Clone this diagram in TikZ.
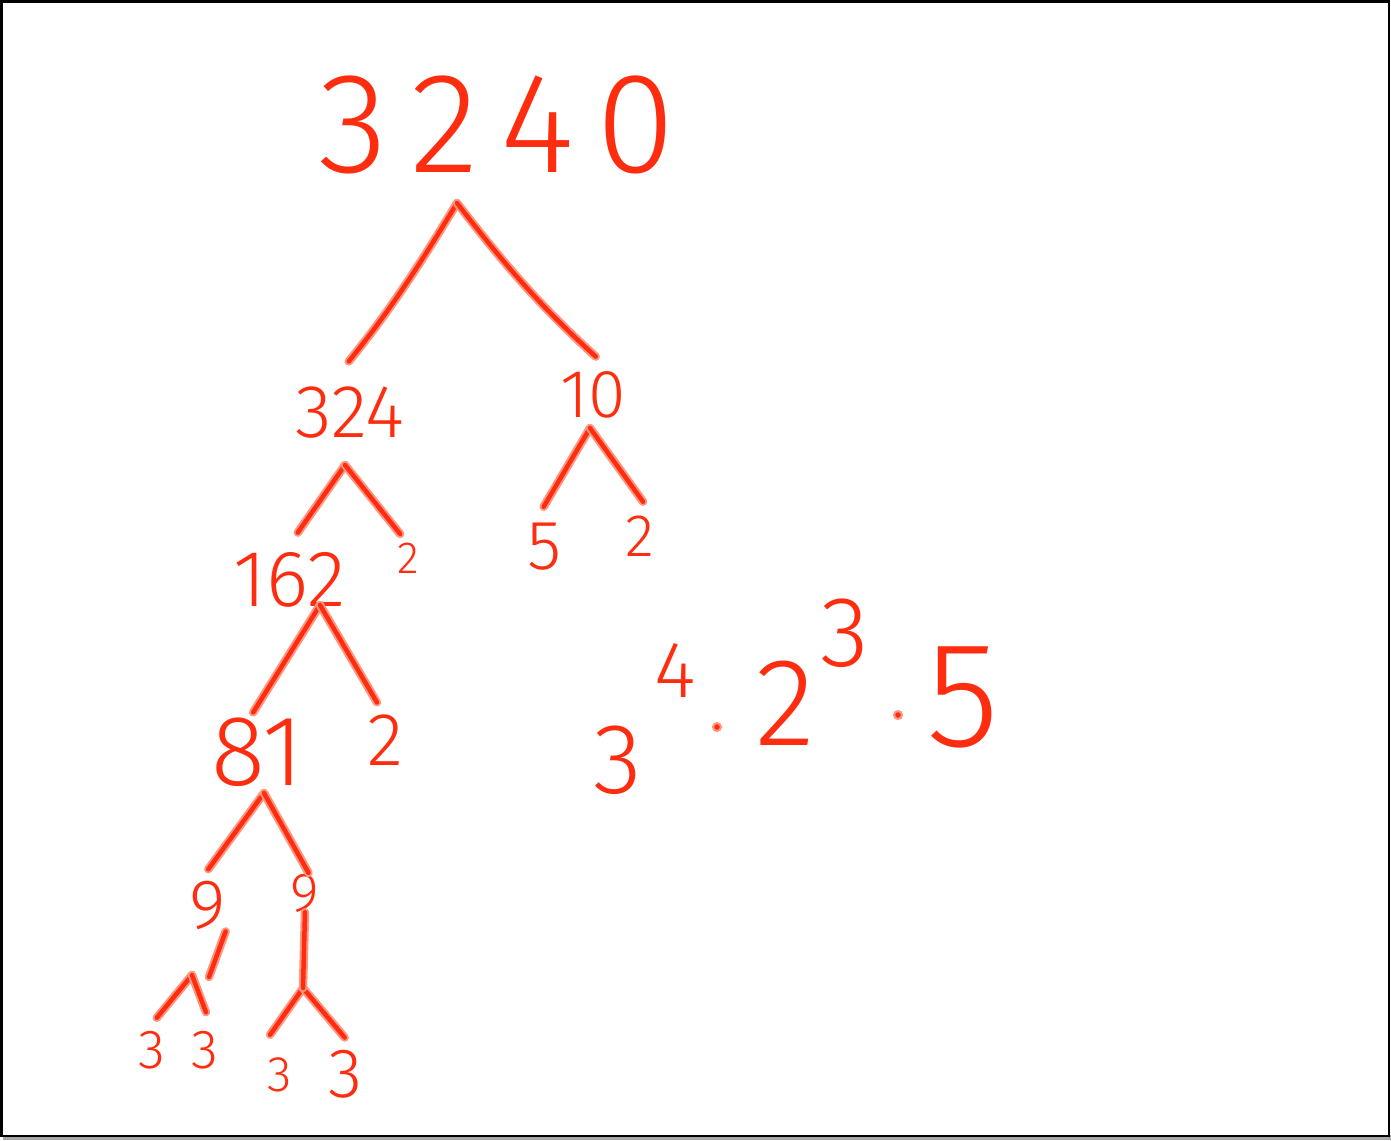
\documentclass[tikz,border=0pt]{standalone}
\usepackage{fontspec}
\newfontfamily\hand{Fira Sans Light}
\definecolor{ink}{RGB}{255,45,15}
\definecolor{halo}{RGB}{255,150,130}
\tikzset{
  num/.style={text=ink, inner sep=0pt, font=\hand\fontsize{#1}{#1}\selectfont},
  br/.style={draw=ink, line width=4.5pt, line cap=round, line join=round,
             preaction={draw=halo, line width=8.5pt, line cap=round}},
  dotn/.style={circle, fill=ink, draw=halo, line width=2pt, inner sep=0pt, minimum size=8pt},
}
\begin{document}
\begin{tikzpicture}[x=1pt,y=-1pt]
\useasboundingbox (0,0) rectangle (1391,1140);
\fill[gray!70] (3,1135) rectangle (1391,1140);
\draw[line width=2.5pt] (1.5,1.5) rectangle (1389,1136);

% numbers
\node[num=143] (n3240) at (497,125) {3\kern22pt 2\kern22pt 4\kern22pt 0};
\node[num=75]  (n324)  at (350,413) {324};
\node[num=68]  (n10)   at (593,395) {10};
\node[num=80]  (n162)  at (290,580) {162};
\node[num=45]  (n2a)   at (408,558) {2};
\node[num=70]  (n5)    at (545,547) {5};
\node[num=60]  (n2b)   at (640,536) {2};
\node[num=100] (n81)   at (258,752) {81};
\node[num=75]  (n2c)   at (385,740) {2};
\node[num=70]  (n9a)   at (208,905) {9};
\node[num=55]  (n9b)   at (305,893) {9};
\node[num=55]  (n3a)   at (152,1050) {3};
\node[num=55]  (n3b)   at (205,1050) {3};
\node[num=50]  (n3c)   at (280,1075) {3};
\node[num=70]  (n3d)   at (346,1074) {3};

% apexes
\coordinate (a0) at (457,203);
\coordinate (a1) at (345,465);
\coordinate (a2) at (590,428);
\coordinate (a3) at (320,605);
\coordinate (a4) at (264,793);
\coordinate (a5) at (192,975);
\coordinate (a6) at (303,988);
\coordinate (t9) at (209,977);
\fill[ink] (465,211) circle (2.5pt);

% branches
\draw[br, shorten >=33pt] (a0) to[bend left=4]  ([xshift=-22pt]n324.north);
\draw[br, shorten >=22pt] (a0) to[bend right=5] ([xshift=19pt]n10.north);
\draw[br, shorten >=24pt] (a1) -- ([xshift=-6pt]n162.north);
\draw[br, shorten >=11pt] (a1) -- ([xshift=-1pt]n2a.north);
\draw[br, shorten >=19pt] (a2) -- ([xshift=-11pt]n5.north);
\draw[br, shorten >=17pt] (a2) -- ([xshift=13pt]n2b.north);
\draw[br, shorten >=6pt]  (a3) -- ([xshift=-8pt]n81.north);
\draw[br, shorten >=14pt] (a3) -- ([xshift=-1pt]n2c.north);
\draw[br, shorten >=14pt] (a4) -- ([xshift=-8pt]n9a.north);
\draw[br, shorten >=1pt]  (a4) -- ([xshift=4pt]n9b.north);
\draw[br, shorten >=17pt] (a5) -- ([xshift=-6pt]n3a.north);
\draw[br, shorten >=20pt] (a5) -- ([xshift=8pt]n3b.north);
\draw[br, shorten >=28pt] (a6) -- ([xshift=-26pt]n3c.north);
\draw[br, shorten >=16pt] (a6) -- ([xshift=9pt]n3d.north);
\draw[br] (n9b.south) -- (a6);
\draw[br, shorten <=2pt] (n9a.south east) -- (t9);

% expression
\node[num=100] (e3)  at (618,760) {3};
\node[num=80]  (e4)  at (675,670) {4};
\node[dotn]    (ed1) at (717,727) {};
\node[num=125] (e2)  at (785,703) {2};
\node[num=100] (e3s) at (845,633) {3};
\node[dotn]    (ed2) at (898,715) {};
\node[num=150] (e5)  at (963,697) {5};
\end{tikzpicture}
\end{document}
